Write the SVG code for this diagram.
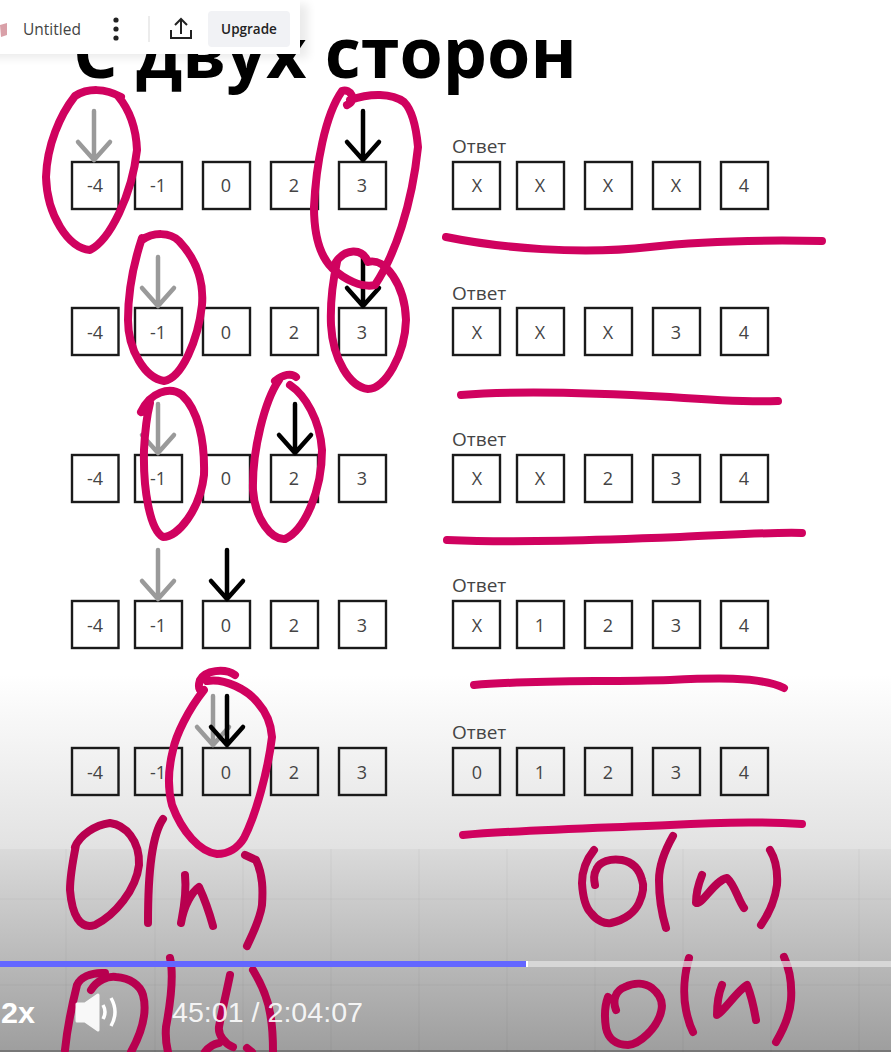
<svg xmlns="http://www.w3.org/2000/svg" width="891" height="1052" viewBox="0 0 891 1052">
<style>
.b{fill:none;stroke:#1a1a1a;stroke-width:2.4}
.t{font:18px "Open Sans","Noto Sans",sans-serif;fill:#444;text-anchor:middle}
.a{font:19px "Open Sans","Noto Sans",sans-serif;fill:#444}
.g{fill:none;stroke:#9a9a9a;stroke-width:4.500;stroke-linecap:round;stroke-linejoin:round}
.k{fill:none;stroke:#000;stroke-width:4.500;stroke-linecap:round;stroke-linejoin:round}
.i{fill:none;stroke:#d0025f;stroke-width:8;stroke-linecap:round;stroke-linejoin:round}
.d{fill:none;stroke:#b8004f;stroke-width:8;stroke-linecap:round;stroke-linejoin:round}
.gl{stroke:#000;stroke-opacity:.04;stroke-width:1}
</style>
<defs>
<linearGradient id="fade" x1="0" y1="0" x2="0" y2="1"><stop offset="0" stop-color="#fff"/><stop offset="1" stop-color="#e2e2e2"/></linearGradient>
<linearGradient id="bar" x1="0" y1="0" x2="0" y2="1"><stop offset="0" stop-color="#dadada"/><stop offset="1" stop-color="#9e9e9e"/></linearGradient>
<filter id="sh" x="-10%" y="-30%" width="120%" height="170%"><feGaussianBlur stdDeviation="5"/></filter>
</defs>
<rect id="background" width="891" height="1052" fill="#fff"/>
<rect y="675" width="891" height="174" fill="url(#fade)"/>
<rect y="849" width="891" height="203" fill="url(#bar)"/>
<rect y="1050" width="891" height="2" fill="#777"/>
<g id="grid">
<path class="gl" d="M66 849V1052M155 849V1052M243 849V1052M331 849V1052M419 849V1052M507 849V1052M595 849V1052M683 849V1052M771 849V1052M859 849V1052M0 899H891M0 985H891"/>
</g>
<text id="title" x="73" y="78" font-family="'Open Sans','Noto Sans',sans-serif" font-size="70" font-weight="700" fill="#000">С двух сторон</text>
<g id="toolbar">
<rect x="-10" y="4" width="318" height="54" fill="#000" opacity=".08" filter="url(#sh)"/>
<rect x="-10" y="0" width="310" height="54" fill="#fff"/>
<path d="M0 25l7-2v12l-6 2z" fill="#d9a0a8"/>
<text x="23" y="35" font-family="'Open Sans',sans-serif" font-size="15.500" fill="#444">Untitled</text>
<circle cx="116" cy="20" r="2.600" fill="#222"/><circle cx="116" cy="29" r="2.600" fill="#222"/><circle cx="116" cy="38" r="2.600" fill="#222"/>
<path d="M149 16V42" stroke="#e6e6e6" stroke-width="1.500"/>
<path d="M181 34V20M175 25l6-6 6 6M171 30v8h20v-8" fill="none" stroke="#222" stroke-width="2"/>
<rect x="208" y="11" width="82" height="36" rx="4" fill="#f1f2f5"/>
<text x="249" y="34" font-family="'Open Sans',sans-serif" font-size="13.500" font-weight="600" fill="#222" text-anchor="middle">Upgrade</text>
</g>
<g id="row1">
<g id="r1a"><rect class="b" x="72" y="162" width="46.500" height="47"/><text class="t" x="95" y="192">-4</text></g>
<g id="r1b"><rect class="b" x="135" y="162" width="47" height="47"/><text class="t" x="158" y="192">-1</text></g>
<g id="r1c"><rect class="b" x="203" y="162" width="47" height="47"/><text class="t" x="226" y="192">0</text></g>
<g id="r1d"><rect class="b" x="271" y="162" width="47" height="47"/><text class="t" x="294" y="192">2</text></g>
<g id="r1e"><rect class="b" x="339" y="162" width="47" height="47"/><text class="t" x="362" y="192">3</text></g>
<text class="a" x="452" y="153">Ответ</text>
<g id="r1f"><rect class="b" x="453" y="162" width="47" height="47"/><text class="t" x="477" y="192">X</text></g>
<g id="r1g"><rect class="b" x="517" y="162" width="47" height="47"/><text class="t" x="540" y="192">X</text></g>
<g id="r1h"><rect class="b" x="585" y="162" width="47" height="47"/><text class="t" x="608" y="192">X</text></g>
<g id="r1i"><rect class="b" x="653" y="162" width="47" height="47"/><text class="t" x="676" y="192">X</text></g>
<g id="r1j"><rect class="b" x="721" y="162" width="47" height="47"/><text class="t" x="744" y="192">4</text></g>
</g>
<g id="row2">
<g id="r2a"><rect class="b" x="72" y="308" width="46.500" height="47"/><text class="t" x="95" y="339">-4</text></g>
<g id="r2b"><rect class="b" x="135" y="308" width="47" height="47"/><text class="t" x="158" y="339">-1</text></g>
<g id="r2c"><rect class="b" x="203" y="308" width="47" height="47"/><text class="t" x="226" y="339">0</text></g>
<g id="r2d"><rect class="b" x="271" y="308" width="47" height="47"/><text class="t" x="294" y="339">2</text></g>
<g id="r2e"><rect class="b" x="339" y="308" width="47" height="47"/><text class="t" x="362" y="339">3</text></g>
<text class="a" x="452" y="300">Ответ</text>
<g id="r2f"><rect class="b" x="453" y="308" width="47" height="47"/><text class="t" x="477" y="339">X</text></g>
<g id="r2g"><rect class="b" x="517" y="308" width="47" height="47"/><text class="t" x="540" y="339">X</text></g>
<g id="r2h"><rect class="b" x="585" y="308" width="47" height="47"/><text class="t" x="608" y="339">X</text></g>
<g id="r2i"><rect class="b" x="653" y="308" width="47" height="47"/><text class="t" x="676" y="339">3</text></g>
<g id="r2j"><rect class="b" x="721" y="308" width="47" height="47"/><text class="t" x="744" y="339">4</text></g>
</g>
<g id="row3">
<g id="r3a"><rect class="b" x="72" y="455" width="46.500" height="47"/><text class="t" x="95" y="485">-4</text></g>
<g id="r3b"><rect class="b" x="135" y="455" width="47" height="47"/><text class="t" x="158" y="485">-1</text></g>
<g id="r3c"><rect class="b" x="203" y="455" width="47" height="47"/><text class="t" x="226" y="485">0</text></g>
<g id="r3d"><rect class="b" x="271" y="455" width="47" height="47"/><text class="t" x="294" y="485">2</text></g>
<g id="r3e"><rect class="b" x="339" y="455" width="47" height="47"/><text class="t" x="362" y="485">3</text></g>
<text class="a" x="452" y="446">Ответ</text>
<g id="r3f"><rect class="b" x="453" y="455" width="47" height="47"/><text class="t" x="477" y="485">X</text></g>
<g id="r3g"><rect class="b" x="517" y="455" width="47" height="47"/><text class="t" x="540" y="485">X</text></g>
<g id="r3h"><rect class="b" x="585" y="455" width="47" height="47"/><text class="t" x="608" y="485">2</text></g>
<g id="r3i"><rect class="b" x="653" y="455" width="47" height="47"/><text class="t" x="676" y="485">3</text></g>
<g id="r3j"><rect class="b" x="721" y="455" width="47" height="47"/><text class="t" x="744" y="485">4</text></g>
</g>
<g id="row4">
<g id="r4a"><rect class="b" x="72" y="601" width="46.500" height="47"/><text class="t" x="95" y="632">-4</text></g>
<g id="r4b"><rect class="b" x="135" y="601" width="47" height="47"/><text class="t" x="158" y="632">-1</text></g>
<g id="r4c"><rect class="b" x="203" y="601" width="47" height="47"/><text class="t" x="226" y="632">0</text></g>
<g id="r4d"><rect class="b" x="271" y="601" width="47" height="47"/><text class="t" x="294" y="632">2</text></g>
<g id="r4e"><rect class="b" x="339" y="601" width="47" height="47"/><text class="t" x="362" y="632">3</text></g>
<text class="a" x="452" y="592">Ответ</text>
<g id="r4f"><rect class="b" x="453" y="601" width="47" height="47"/><text class="t" x="477" y="632">X</text></g>
<g id="r4g"><rect class="b" x="517" y="601" width="47" height="47"/><text class="t" x="540" y="632">1</text></g>
<g id="r4h"><rect class="b" x="585" y="601" width="47" height="47"/><text class="t" x="608" y="632">2</text></g>
<g id="r4i"><rect class="b" x="653" y="601" width="47" height="47"/><text class="t" x="676" y="632">3</text></g>
<g id="r4j"><rect class="b" x="721" y="601" width="47" height="47"/><text class="t" x="744" y="632">4</text></g>
</g>
<g id="row5">
<g id="r5a"><rect class="b" x="72" y="748" width="46.500" height="47"/><text class="t" x="95" y="779">-4</text></g>
<g id="r5b"><rect class="b" x="135" y="748" width="47" height="47"/><text class="t" x="158" y="779">-1</text></g>
<g id="r5c"><rect class="b" x="203" y="748" width="47" height="47"/><text class="t" x="226" y="779">0</text></g>
<g id="r5d"><rect class="b" x="271" y="748" width="47" height="47"/><text class="t" x="294" y="779">2</text></g>
<g id="r5e"><rect class="b" x="339" y="748" width="47" height="47"/><text class="t" x="362" y="779">3</text></g>
<text class="a" x="452" y="739">Ответ</text>
<g id="r5f"><rect class="b" x="453" y="748" width="47" height="47"/><text class="t" x="477" y="779">0</text></g>
<g id="r5g"><rect class="b" x="517" y="748" width="47" height="47"/><text class="t" x="540" y="779">1</text></g>
<g id="r5h"><rect class="b" x="585" y="748" width="47" height="47"/><text class="t" x="608" y="779">2</text></g>
<g id="r5i"><rect class="b" x="653" y="748" width="47" height="47"/><text class="t" x="676" y="779">3</text></g>
<g id="r5j"><rect class="b" x="721" y="748" width="47" height="47"/><text class="t" x="744" y="779">4</text></g>
</g>
<g id="connectors">
<path class="g" d="M94 111V160M78 142l16 18 16-18"/>
<path class="k" d="M363 111V160M347 142l16 18 16-18"/>
<path class="g" d="M158 257V306M142 288l16 18 16-18"/>
<path class="k" d="M363 257V306M347 288l16 18 16-18"/>
<path class="g" d="M158 404V453M142 435l16 18 16-18"/>
<path class="k" d="M295 404V453M279 435l16 18 16-18"/>
<path class="g" d="M158 550V599M142 581l16 18 16-18"/>
<path class="k" d="M227 550V599M211 581l16 18 16-18"/>
<path class="g" d="M213 696V745M197 727l16 18 16-18"/>
<path class="k" d="M227 696V745M211 727l16 18 16-18"/>
</g>
<g id="ink">
<path class="i" d="M121 97C105 88 88 88 75 96C60 115 47 145 46 177C47 215 68 248 90 250C110 240 132 195 137 150C136 125 128 108 118 96"/>
<path class="i" d="M347 105C358 100 350 88 342 91C325 115 316 165 314 207C314 240 322 258 332 268C345 280 362 288 375 285C395 255 412 205 418 147C416 125 412 110 404 102C392 93 370 93 350 100"/>
<path class="i" d="M142 240C153 232 170 232 179 241C195 258 204 280 202 305C198 340 182 378 164 381C145 378 128 350 128 320C128 290 133 265 142 238"/>
<path class="i" d="M336 262C345 249 362 247 368 262C385 257 405 285 406 320C405 355 385 389 368 389C350 387 333 360 331 325C330 300 333 280 337 262"/>
<path class="i" d="M141 412C150 392 170 386 182 395C198 410 205 440 204 475C200 510 178 537 163 537C150 530 143 490 144 450C145 430 147 415 150 403"/>
<path class="i" d="M275 381C283 374 292 373 296 377M279 380C265 400 252 450 253 490C255 520 272 540 285 539C305 530 322 490 322 450C320 420 305 395 290 385"/>
<path class="i" d="M235 675C225 668 205 670 200 680C197 690 201 692 204 690C188 710 176 735 173 750C168 770 168 790 172 805C182 832 200 852 217 854C228 854 238 848 244 838C256 815 268 770 272 737C271 722 266 712 258 703C248 690 225 678 207 681"/>
<path class="i" d="M446 237C500 248 580 255 650 247C710 240 770 240 822 241"/>
<path class="i" d="M461 395C520 390 600 393 670 397C710 400 750 402 778 401"/>
<path class="i" d="M447 540C520 543 600 540 680 537C730 535 770 532 802 533"/>
<path class="i" d="M474 685C530 680 600 682 670 680C710 678 760 676 784 688"/>
<path class="i" d="M463 835C520 830 600 828 670 825C720 822 770 822 802 824"/>
<path class="d" d="M75 847C80 835 95 825 110 823C125 825 140 840 139 865C136 890 115 915 95 925C80 930 72 915 70 890C70 875 73 860 76 845"/>
<path class="d" d="M163 819C152 835 148 870 148 923"/>
<path class="d" d="M185 875C187 895 183 912 181 923C184 905 192 892 199 887C205 900 210 915 213 926"/>
<path class="d" d="M245 855L256 860C263 875 263 890 262 905C260 920 252 935 247 946"/>
<path class="d" d="M594 850C586 860 582 872 582 883C583 900 586 908 591 913C597 921 605 924 611 923C625 920 635 912 639 903C644 892 644 885 642 880C639 868 632 862 622 860C610 858 600 862 597 868C593 875 594 880 595 885"/>
<path class="d" d="M673 836C665 850 659 865 659 880C659 900 662 915 666 928"/>
<path class="d" d="M702 875C698 885 696 895 696 903C702 905 715 880 727 878C735 885 738 900 744 908"/>
<path class="d" d="M770 850C776 860 778 870 777 885C775 900 768 915 761 925"/>
<path class="d" d="M105 973C90 972 80 978 77 985C72 1005 67 1030 65 1050"/>
<path class="d" d="M91 990C97 980 108 976 116 977C130 978 140 985 143 995C147 1010 143 1030 131 1052"/>
<path class="d" d="M170 958C174 975 171 1000 166 1027C165 1040 167 1048 168 1052"/>
<path class="d" d="M230 975C226 995 221 1015 219 1027C218 1035 225 1044 233 1047M205 1052C208 1048 213 1044 219 1043M252 1052L247 1048"/>
<path class="d" d="M253 970C262 985 268 1000 270 1013C273 1028 273 1040 273 1052"/>
<path class="d" d="M616 1010C612 1000 616 990 625 987C635 982 645 983 652 988C662 996 663 1005 661 1012C657 1028 640 1044 628 1045C615 1045 608 1038 606 1028C604 1015 605 1005 608 997"/>
<path class="d" d="M689 958C684 975 683 995 686 1010C688 1020 691 1028 693 1032"/>
<path class="d" d="M722 985C718 995 717 1005 717 1015C723 1012 738 990 747 985C751 995 754 1008 756 1020"/>
<path class="d" d="M784 957C790 970 792 985 791 1000C790 1015 783 1030 776 1042"/>
</g>
<g id="player">
<rect x="0" y="961" width="891" height="6" fill="#e2e2e2" opacity=".75"/>
<rect x="0" y="961" width="526" height="6" fill="#6366ff"/>
<rect x="526" y="961" width="2" height="6" fill="#fff"/>
<text x="1" y="1023" font-family="'Liberation Sans',sans-serif" font-size="30" font-weight="700" fill="#fff" textLength="34" lengthAdjust="spacingAndGlyphs">2x</text>
<path d="M77 1004H85L98 995V1030L85 1021H77Z" fill="#fff" stroke="#fff" stroke-width="3" stroke-linejoin="round" opacity=".92"/>
<path d="M103 1005Q107 1012 103 1019M111 998Q119 1012 111 1026" fill="none" stroke="#fff" stroke-width="3.500"/>
<text x="172" y="1022" font-family="'Liberation Sans',sans-serif" font-size="28" fill="#fff" fill-opacity=".9" textLength="191" lengthAdjust="spacingAndGlyphs">45:01 / 2:04:07</text>
</g>
</svg>
